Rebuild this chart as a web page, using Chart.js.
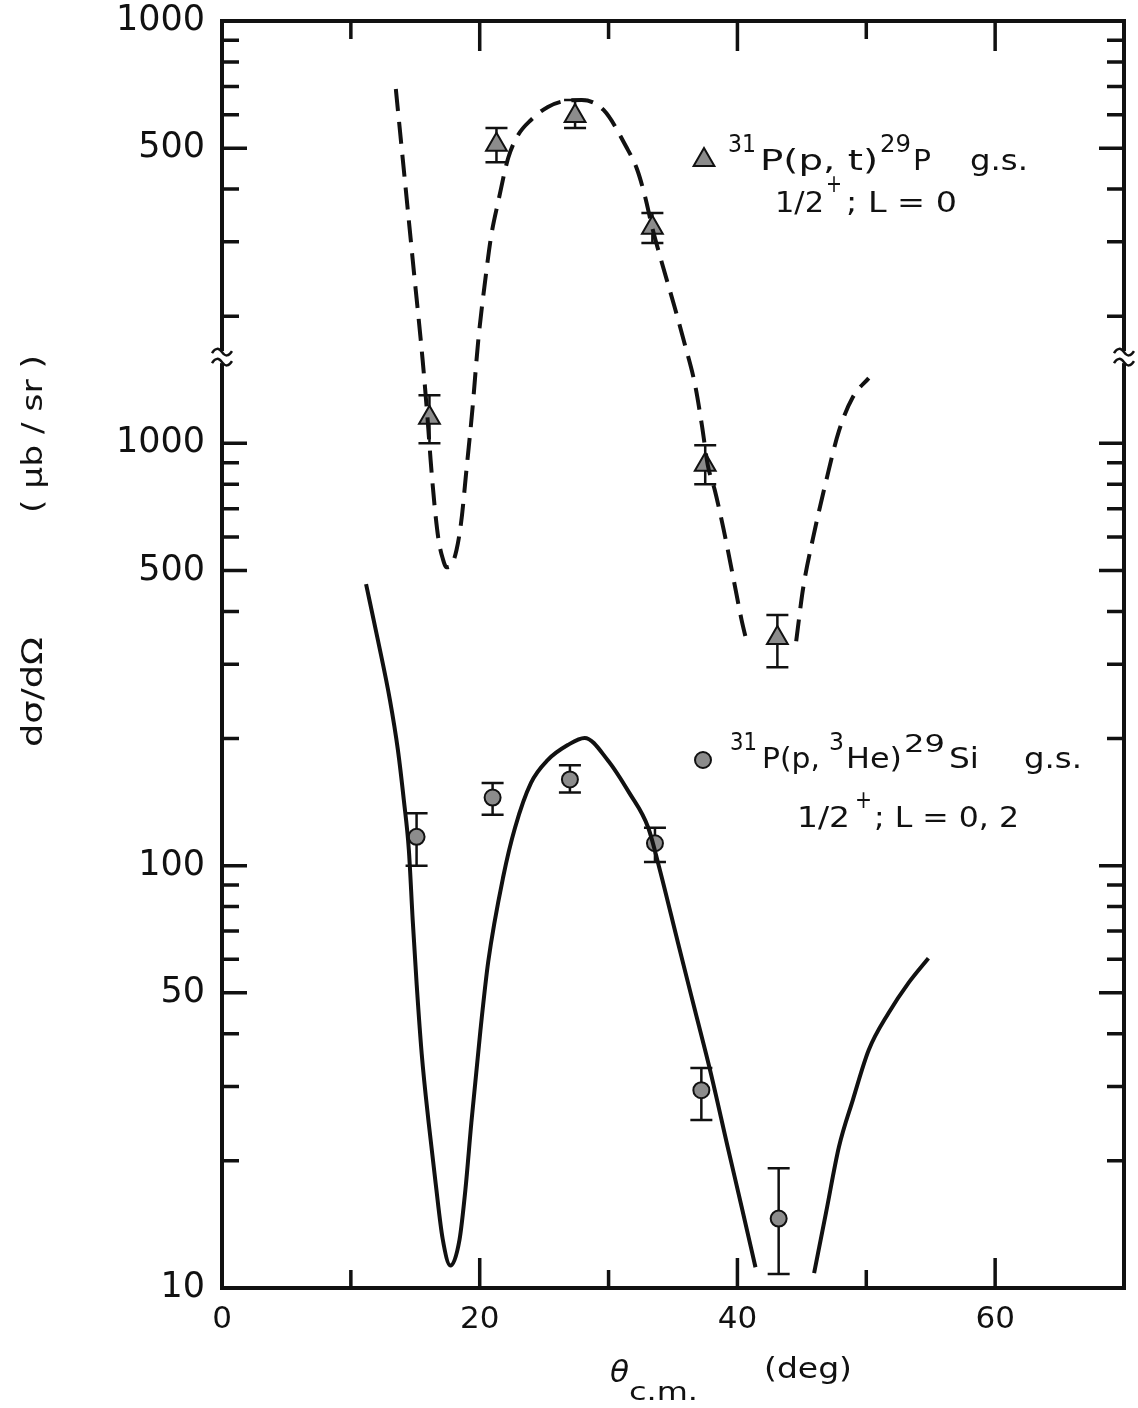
<!DOCTYPE html>
<html>
<head>
<meta charset="utf-8">
<title>31P(p,t) and 31P(p,3He) angular distributions</title>
<script src="https://cdn.jsdelivr.net/npm/chart.js@4.4.0/dist/chart.umd.min.js"></script>
<style>
  html, body { margin: 0; padding: 0; background: #fff; overflow: hidden; }
  #wrap { position: relative; width: 1138px; height: 1408px; }
  canvas { display: block; }
</style>
</head>
<body>
<div id="wrap"><canvas id="crossSection"></canvas></div>
<script>
// 31P(p,t)29P g.s. -- read on the upper (broken) scale, ub/sr
const ptTheta   = [16.1, 21.3, 27.4, 33.4, 37.5, 43.1];
const ptValue   = [115, 509, 596, 324, 89, 34.6];
const ptErrLow  = [100, 463, 558, 298, 80, 29.5];
const ptErrHigh = [130, 558, 650, 351, 99, 39.2];

// DWBA curve for (p,t), dashed; null marks the gap near 42 deg
const ptCurveTheta = [13.49, 14.19, 14.88, 15.57, 15.96, 16.19, 16.50, 16.81, 17.12, 17.42, 17.73, 18.20, 18.58, 18.97, 19.43, 19.89, 20.43, 20.89, 21.43, 22.21, 22.98, 23.98, 25.29, 26.60, 27.91, 29.61, 31.38, 32.23, 32.84, 33.38, 34.23, 35.08, 35.93, 36.70, 37.24, 37.70, 38.24, 38.94, 39.71, 40.32, 40.71, 42.6, 44.56, 45.10, 45.87, 46.88, 47.88, 48.96, 50.19];
const ptCurveValue = [690, 420, 257, 157.5, 113.6, 91.3, 71.0, 59.0, 53.5, 50.9, 51.2, 55.9, 65.8, 86.5, 120, 175.6, 243.6, 309.7, 372.7, 473.8, 537, 583, 626, 646.6, 650, 615.6, 503, 443.8, 383, 325, 261.5, 212.6, 171, 138.1, 110.5, 88.8, 77.5, 62.3, 47.5, 38.2, 34.0, null, 34.0, 45.4, 59.7, 81.4, 107, 128.7, 142.7];

// 31P(p,3He)29Si g.s. -- read on the lower scale, ub/sr
const heTheta   = [15.1, 21.0, 27.0, 33.6, 37.2, 43.2];
const heValue   = [117, 145, 160, 113, 29.4, 14.6];
const heErrLow  = [100, 132, 149, 102, 25.0, 10.8];
const heErrHigh = [133, 157, 173, 123, 33.2, 19.2];

// DWBA curve for (p,3He), solid
const heCurveTheta = [11.18, 12.10, 13.03, 13.65, 14.11, 14.50, 14.80, 15.11, 15.50, 16.04, 16.58, 17.12, 17.73, 18.43, 18.89, 19.35, 20.05, 20.66, 21.82, 22.74, 23.98, 25.29, 26.83, 28.14, 29.92, 31.61, 33.08, 33.92, 35.39, 36.70, 37.93, 39.24, 40.32, 41.40, 43.6, 45.95, 46.88, 47.88, 48.96, 50.19, 51.73, 53.28, 54.82];
const heCurveValue = [464, 342, 247, 188, 143, 109, 74.3, 52.2, 35.8, 24.6, 17.7, 13.1, 11.3, 13.0, 17.1, 24.6, 40.6, 59.2, 94.0, 123, 157, 178, 193, 200.6, 178, 148.7, 123, 99.3, 65.6, 45.5, 32.3, 21.6, 15.6, 11.2, null, 10.85, 15.1, 21.6, 27.9, 36.6, 44.8, 52.8, 60.4];

// axis: lower scale 10..1000, above the break the scale is read /10
const yTickValues = [10, 20, 30, 40, 50, 60, 70, 80, 90, 100, 200, 300, 400, 500, 600, 700, 800, 900, 1000,
                     2000, 3000, 4000, 5000, 6000, 7000, 8000, 9000, 10000];
const yTickLabels = { 10: '10', 50: '50', 100: '100', 500: '500', 1000: '1000', 5000: '500', 10000: '1000' };
const axisBreak = 1600;
const xLabelTicks = [0, 20, 40, 60];

const INK = '#111';
const MARK = '#8c8c8c';
const FONT = '"DejaVu Sans", "Liberation Sans", sans-serif';

function toPoints(xs, ys) {
    return xs.map((x, i) => ({ x: x, y: ys[i] }));
}

// stretch a piece of lettering so it runs from x0 to x1
function fitText(ctx, text, x0, x1, baseline, size, style) {
    ctx.save();
    ctx.font = (style || '') + ' ' + size + 'px ' + FONT;
    ctx.textAlign = 'left';
    ctx.textBaseline = 'alphabetic';
    const w = ctx.measureText(text).width;
    ctx.translate(x0, baseline);
    ctx.scale((x1 - x0) / w, 1);
    ctx.fillText(text, 0, 0);
    ctx.restore();
}

function drawErrorBars(ctx, yScale, xScale, xs, lows, highs) {
    ctx.strokeStyle = INK;
    ctx.lineWidth = 2.5;
    xs.forEach((t, i) => {
        const px = xScale.getPixelForValue(t);
        const y0 = yScale.getPixelForValue(lows[i]);
        const y1 = yScale.getPixelForValue(highs[i]);
        ctx.beginPath();
        ctx.moveTo(px, y0); ctx.lineTo(px, y1);
        ctx.moveTo(px - 11, y0); ctx.lineTo(px + 11, y0);
        ctx.moveTo(px - 11, y1); ctx.lineTo(px + 11, y1);
        ctx.stroke();
    });
}

function tilde(ctx, cx, cy) {
    ctx.beginPath();
    ctx.moveTo(cx - 10, cy + 1);
    ctx.quadraticCurveTo(cx - 5, cy - 7, cx, cy);
    ctx.quadraticCurveTo(cx + 5, cy + 7, cx + 10, cy - 1);
    ctx.stroke();
}

const paperPlugin = {
    id: 'paper',
    beforeDatasetsDraw(chart) {
        const ctx = chart.ctx;
        const x = chart.scales.x;
        ctx.save();
        drawErrorBars(ctx, chart.scales.y2, x, ptTheta, ptErrLow, ptErrHigh);
        drawErrorBars(ctx, chart.scales.y, x, heTheta, heErrLow, heErrHigh);
        ctx.restore();
    },
    afterDraw(chart) {
        const ctx = chart.ctx;
        const a = chart.chartArea;
        const x = chart.scales.x;
        const y = chart.scales.y;
        ctx.save();
        ctx.strokeStyle = INK;
        ctx.fillStyle = INK;
        ctx.lineCap = 'butt';

        // frame
        ctx.lineWidth = 4;
        ctx.strokeRect(a.left, a.top, a.right - a.left, a.bottom - a.top);

        // inward ticks, x on top and bottom
        ctx.lineWidth = 3.5;
        x.ticks.forEach(t => {
            if (t.value <= 0 || t.value >= 70) return;
            const len = t.value % 20 === 0 ? 30 : 18;
            const px = x.getPixelForValue(t.value);
            ctx.beginPath();
            ctx.moveTo(px, a.bottom); ctx.lineTo(px, a.bottom - len);
            ctx.moveTo(px, a.top); ctx.lineTo(px, a.top + len);
            ctx.stroke();
        });
        // inward ticks, y on left and right
        yTickValues.forEach(v => {
            if (v <= 10 || v >= 10000) return;
            const len = yTickLabels[v] ? 25 : 17;
            const py = y.getPixelForValue(v);
            ctx.beginPath();
            ctx.moveTo(a.left, py); ctx.lineTo(a.left + len, py);
            ctx.moveTo(a.right, py); ctx.lineTo(a.right - len, py);
            ctx.stroke();
        });

        // axis break marks
        const pb = y.getPixelForValue(axisBreak);
        [a.left, a.right].forEach(ex => {
            ctx.fillStyle = '#fff';
            ctx.fillRect(ex - 3, pb - 6, 6, 12);
            ctx.fillStyle = INK;
            ctx.lineWidth = 2.5;
            tilde(ctx, ex, pb - 5);
            tilde(ctx, ex, pb + 5);
        });

        // y title
        ctx.save();
        ctx.translate(42, 692);
        ctx.rotate(-Math.PI / 2);
        fitText(ctx, 'd\u03c3/d\u03a9', -55, 55, 0, 28);
        ctx.restore();
        ctx.save();
        ctx.translate(42, 434);
        ctx.rotate(-Math.PI / 2);
        fitText(ctx, '( \u03bcb / sr )', -79, 79, 0, 28);
        ctx.restore();

        // x title
        fitText(ctx, '\u03b8', 610, 629, 1382, 30, 'italic');
        fitText(ctx, 'c.m.', 629, 698, 1400, 24);
        fitText(ctx, '(deg)', 764, 852, 1378, 28);

        // legend: (p,t)
        ctx.fillStyle = MARK;
        ctx.strokeStyle = INK;
        ctx.lineWidth = 2;
        Chart.helpers.drawPoint(ctx, { pointStyle: 'triangle', radius: 12, borderWidth: 2, rotation: 0 }, 704, 160);
        ctx.fillStyle = INK;
        fitText(ctx, '31', 728, 756, 152, 25);
        fitText(ctx, 'P(p, t)', 760, 878, 170, 28);
        fitText(ctx, '29', 880, 911, 152, 25);
        fitText(ctx, 'P', 913, 931, 170, 28);
        fitText(ctx, 'g.s.', 970, 1028, 170, 28);
        fitText(ctx, '1/2', 775, 824, 212, 28);
        fitText(ctx, '+', 826, 842, 192, 24);
        fitText(ctx, '; L = 0', 846, 957, 212, 28);

        // legend: (p,3He)
        ctx.fillStyle = MARK;
        Chart.helpers.drawPoint(ctx, { pointStyle: 'circle', radius: 8, borderWidth: 2, rotation: 0 }, 703, 760);
        ctx.fillStyle = INK;
        fitText(ctx, '31', 730, 757, 750, 25);
        fitText(ctx, 'P(p,', 762, 820, 768, 28);
        fitText(ctx, '3', 829, 844, 750, 25);
        fitText(ctx, 'He)', 846, 902, 768, 28);
        fitText(ctx, '29', 904, 945, 752, 25);
        fitText(ctx, 'Si', 949, 979, 768, 28);
        fitText(ctx, 'g.s.', 1024, 1082, 768, 28);
        fitText(ctx, '1/2', 797, 850, 827, 28);
        fitText(ctx, '+', 855, 872, 808, 24);
        fitText(ctx, '; L = 0, 2', 874, 1019, 827, 28);

        ctx.restore();
    }
};

const ctx = document.getElementById('crossSection').getContext('2d');
const chart = new Chart(ctx, {
    type: 'line',
    data: {
        datasets: [
            {
                label: '31P(p,t)29P DWBA',
                data: toPoints(ptCurveTheta, ptCurveValue),
                yAxisID: 'y2',
                borderColor: INK,
                borderWidth: 4,
                borderDash: [22, 11],
                pointRadius: 0,
                cubicInterpolationMode: 'monotone',
                spanGaps: false,
                fill: false
            },
            {
                label: '31P(p,3He)29Si DWBA',
                data: toPoints(heCurveTheta, heCurveValue),
                yAxisID: 'y',
                borderColor: INK,
                borderWidth: 4,
                pointRadius: 0,
                cubicInterpolationMode: 'monotone',
                spanGaps: false,
                fill: false
            },
            {
                label: '31P(p,t)29P g.s.',
                data: toPoints(ptTheta, ptValue),
                yAxisID: 'y2',
                showLine: false,
                pointStyle: 'triangle',
                pointRadius: 12,
                pointBackgroundColor: MARK,
                pointBorderColor: INK,
                pointBorderWidth: 2
            },
            {
                label: '31P(p,3He)29Si g.s.',
                data: toPoints(heTheta, heValue),
                yAxisID: 'y',
                showLine: false,
                pointStyle: 'circle',
                pointRadius: 8,
                pointBackgroundColor: MARK,
                pointBorderColor: INK,
                pointBorderWidth: 2
            }
        ]
    },
    options: {
        responsive: true,
        maintainAspectRatio: false,
        animation: false,
        events: [],
        layout: { padding: { top: 21, right: 8, left: 0, bottom: 0 } },
        plugins: {
            legend: { display: false },
            tooltip: { enabled: false }
        },
        scales: {
            x: {
                type: 'linear',
                min: 0,
                max: 70,
                afterFit: s => { s.height = 120; s.paddingLeft = 0; s.paddingRight = 0; },
                grid: { display: false, drawTicks: false },
                border: { display: false },
                ticks: {
                    stepSize: 10,
                    autoSkip: false,
                    maxRotation: 0,
                    padding: 0,
                    color: INK,
                    font: { family: FONT, size: 31, lineHeight: 2.04 },
                    callback: v => xLabelTicks.includes(v) ? String(v) : ''
                }
            },
            y: {
                type: 'logarithmic',
                position: 'left',
                min: 10,
                max: 10000,
                afterFit: s => { s.width = 222; s.paddingTop = 0; s.paddingBottom = 0; },
                afterBuildTicks: s => { s.ticks = yTickValues.map(v => ({ value: v })); },
                grid: { display: false, drawTicks: false },
                border: { display: false },
                ticks: {
                    autoSkip: false,
                    padding: 17,
                    color: INK,
                    font: { family: FONT, size: 35 },
                    callback: v => yTickLabels[v] || ''
                }
            },
            // (p,t) scale: same decades, shifted by a factor of ten
            y2: {
                type: 'logarithmic',
                position: 'left',
                min: 1,
                max: 1000,
                display: false
            }
        }
    },
    plugins: [paperPlugin]
});
</script>
</body>
</html>
